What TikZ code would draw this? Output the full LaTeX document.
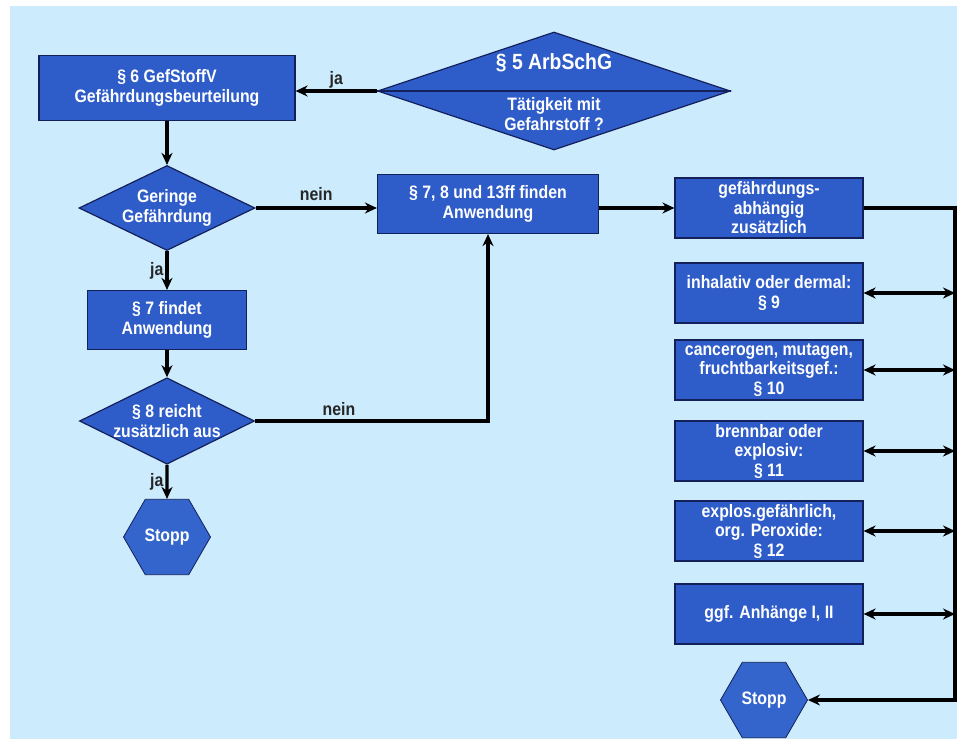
\documentclass[tikz,border=0pt]{standalone}
\usepackage{fontspec}
\setmainfont[FakeStretch=0.88]{Liberation Sans}
\usetikzlibrary{shapes.geometric,arrows.meta}
\definecolor{bgblue}{RGB}{204,235,252}
\definecolor{boxblue}{RGB}{46,92,200}
\definecolor{hexblue}{RGB}{52,101,204}
\definecolor{navy}{RGB}{20,32,90}
\tikzset{
	wtxt/.style={text=white, font=\bfseries\fontsize{18}{19.5}\selectfont, align=center},
	box/.style={wtxt, draw=navy, line width=1.2pt, fill=boxblue, inner sep=1pt, minimum width=188pt, minimum height=60pt},
	dia/.style={wtxt, diamond, aspect=2, draw=navy, line width=1.2pt, fill=boxblue, inner sep=0pt},
	hex/.style={wtxt, regular polygon, regular polygon sides=6, minimum size=87pt, inner sep=0pt, draw=navy, line width=0.8pt, fill=hexblue},
	arr/.style={line width=3.2pt, ->},
	lbl/.style={text=black!85, font=\bfseries\fontsize{18}{20}\selectfont},
}
\begin{document}
\begin{tikzpicture}[x=1pt,y=-1pt,>={Stealth[length=12pt,width=11pt]}]
		\useasboundingbox (0,0) rectangle (957,739);
		\fill[bgblue] (10,6) rectangle (957,739);
		\node[dia, minimum width=353pt, minimum height=118pt] (d-5) at (554,91) {};
		\draw[navy, line width=1.2pt] (d-5.west) -- (d-5.east);
		\node[wtxt, font=\bfseries\fontsize{22}{24}\selectfont] (t-5) at (554,63) {§ 5 ArbSchG};
		\node[wtxt] (q-5) at (554,114) {Tätigkeit mit\\Gefahrstoff ?};
		\node[box, minimum width=256pt, minimum height=65pt] (b-6) at (167,88) {§ 6 GefStoffV\\Gefährdungsbeurteilung};
		\node[dia, minimum width=176pt, minimum height=85pt] (d-g) at (167,208) {Geringe\\Gefährdung};
		\node[box, minimum width=159pt, minimum height=59pt] (b-7) at (167,320) {§ 7 findet\\Anwendung};
		\node[dia, minimum width=175pt, minimum height=84pt] (d-8) at (167,421) {§ 8 reicht\\zusätzlich aus};
		\node[hex] (s-1) at (167,537) {Stopp};
		\node[box, minimum width=221pt, minimum height=59pt] (b-78) at (488,204) {§ 7, 8 und 13ff finden\\Anwendung};
		\node[box] (b-g) at (769,208) {gefährdungs-\\abhängig\\zusätzlich};
		\node[box] (r-9) at (769,293) {inhalativ oder dermal:\\§ 9};
		\node[box] (r-10) at (769,370) {cancerogen, mutagen,\\fruchtbarkeitsgef.:\\§ 10};
		\node[box] (r-11) at (769,451) {brennbar oder\\explosiv:\\§ 11};
		\node[box] (r-12) at (769,531) {explos.gefährlich,\\org. Peroxide:\\§ 12};
		\node[box] (r-13) at (769,614) {ggf. Anhänge I, II};
		\node[hex] (s-2) at (764,700) {Stopp};
		\coordinate (rt) at (955,208);
		\draw[arr] (d-5.west) -- node[lbl,above,inner sep=1pt]{ja} (d-5.west -| b-6.east);
		\draw[arr] (b-6.south) -- (d-g.north);
		\draw[arr] (d-g.east) -- node[lbl,above,yshift=2pt]{nein} (d-g.east -| b-78.west);
		\draw[arr] (d-g.south) -- node[lbl,left,inner sep=2pt]{ja} (b-7.north);
		\draw[arr] (b-7.south) -- (d-8.north);
		\draw[arr] (d-8.east) -| node[lbl,above,pos=0.18]{nein} (b-78.south);
		\draw[arr] (d-8.south) -- node[lbl,left,inner sep=2pt]{ja} (s-1.north);
		\draw[arr] (b-78.east |- b-g.west) -- (b-g.west);
		\draw[arr] (b-g.east) -- (rt) |- (s-2.east);
		\foreach \x in {9,...,13}
			\draw[line width=3.2pt, <->] (r-\x.east) -- (r-\x.east -| rt);
	\end{tikzpicture}
\end{document}
